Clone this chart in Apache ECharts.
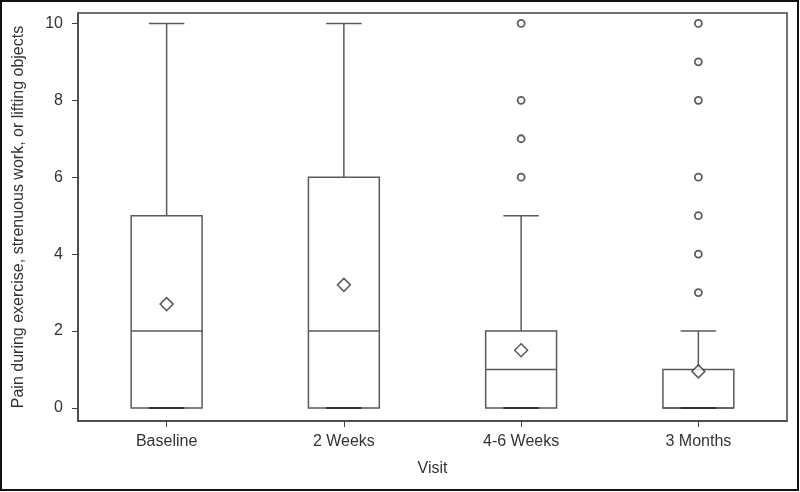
<!DOCTYPE html>
<html>
<head>
<meta charset="utf-8">
<script src="https://cdn.jsdelivr.net/npm/echarts@6/dist/echarts.min.js"></script>
<style>
  html, body { margin: 0; padding: 0; background: #fff; }
  #chart { width: 800px; height: 492px; }
</style>
</head>
<body>
<div id="chart"></div>
<script>
// visits on the x axis
var visits = ['Baseline', '2 Weeks', '4-6 Weeks', '3 Months'];
// box statistics per visit
var whiskerLow = [0, 0, 0, 0];
var q1 = [0, 0, 0, 0];
var median = [2, 2, 1, 0];
var q3 = [5, 6, 2, 1];
var whiskerHigh = [10, 10, 5, 2];
var means = [2.7, 3.2, 1.5, 0.95];
// outliers
var outliers46w = [6, 7, 8, 10];
var outliers3m = [3, 4, 5, 6, 8, 9, 10];
var yTicks = [0, 2, 4, 6, 8, 10];

var lineColor = '#5a5a5a';
var textColor = '#333';
var font = 'Liberation Sans, Arial, sans-serif';

var boxData = visits.map(function (v, i) {
    return [i, whiskerLow[i], q1[i], median[i], q3[i], whiskerHigh[i]];
});
var meanData = means.map(function (m, i) { return [i, m]; });
var outlierData = [];
outliers46w.forEach(function (v) { outlierData.push([2, v]); });
outliers3m.forEach(function (v) { outlierData.push([3, v]); });

function renderBox(params, api) {
    var x = api.value(0);
    var band = api.size([1, 0])[0];
    var half = band * 0.2;
    var cap = half / 2;
    var pLow = api.coord([x, api.value(1)]);
    var pQ1 = api.coord([x, api.value(2)]);
    var pMed = api.coord([x, api.value(3)]);
    var pQ3 = api.coord([x, api.value(4)]);
    var pHigh = api.coord([x, api.value(5)]);
    var cx = pQ1[0];
    var style = { stroke: lineColor, lineWidth: 1.5, fill: null };
    return {
        type: 'group',
        children: [
            { type: 'line', shape: { x1: cx, y1: pQ3[1], x2: cx, y2: pHigh[1] }, style: style },
            { type: 'line', shape: { x1: cx, y1: pLow[1], x2: cx, y2: pQ1[1] }, style: style },
            { type: 'line', shape: { x1: cx - cap, y1: pHigh[1], x2: cx + cap, y2: pHigh[1] }, style: style },
            { type: 'rect', shape: { x: cx - half, y: pQ3[1], width: half * 2, height: pQ1[1] - pQ3[1] }, style: style },
            { type: 'line', shape: { x1: cx - half, y1: pMed[1], x2: cx + half, y2: pMed[1] }, style: style },
            { type: 'line', shape: { x1: cx - cap, y1: pLow[1], x2: cx + cap, y2: pLow[1] }, style: { stroke: '#333', lineWidth: 2 } }
        ]
    };
}

var chart = echarts.init(document.getElementById('chart'));
chart.setOption({
    animation: false,
    backgroundColor: '#fff',
    textStyle: { fontFamily: font },
    grid: {
        left: 78, right: 13, top: 13, bottom: 71,
        show: true, borderColor: '#444', borderWidth: 1.5
    },
    xAxis: {
        type: 'category',
        data: visits,
        name: 'Visit',
        nameLocation: 'middle',
        nameGap: 40,
        nameTextStyle: { fontSize: 16, color: textColor },
        axisLine: { show: true, onZero: false, lineStyle: { color: '#444', width: 1.5 } },
        axisTick: { show: true, alignWithLabel: true, length: 6, lineStyle: { color: '#444' } },
        axisLabel: { fontSize: 16, color: textColor, margin: 13 },
        splitLine: { show: false }
    },
    yAxis: {
        type: 'value',
        min: -0.34,
        max: 10.27,
        name: 'Pain during exercise, strenuous work, or lifting objects',
        nameLocation: 'middle',
        nameGap: 51,
        nameRotate: 90,
        nameTextStyle: { fontSize: 16, color: textColor },
        axisLine: { show: true, lineStyle: { color: '#444', width: 1.5 } },
        axisTick: { show: true, length: 6, customValues: yTicks, lineStyle: { color: '#444' } },
        axisLabel: { fontSize: 16, color: textColor, margin: 15, customValues: yTicks },
        splitLine: { show: false }
    },
    graphic: [{
        type: 'rect',
        shape: { x: 1, y: 1, width: 797, height: 489 },
        style: { fill: null, stroke: '#111', lineWidth: 2 },
        silent: true
    }],
    series: [
        {
            type: 'custom',
            renderItem: renderBox,
            data: boxData,
            encode: { x: 0, y: [1, 2, 3, 4, 5] },
            z: 2
        },
        {
            type: 'scatter',
            data: meanData,
            symbol: 'diamond',
            symbolSize: [13, 13],
            itemStyle: { color: '#fff', borderColor: '#333', borderWidth: 1.5 },
            z: 4
        },
        {
            type: 'scatter',
            data: outlierData,
            symbol: 'circle',
            symbolSize: 7,
            itemStyle: { color: '#fff', borderColor: '#333', borderWidth: 1.8 },
            z: 3
        }
    ]
});
</script>
</body>
</html>
